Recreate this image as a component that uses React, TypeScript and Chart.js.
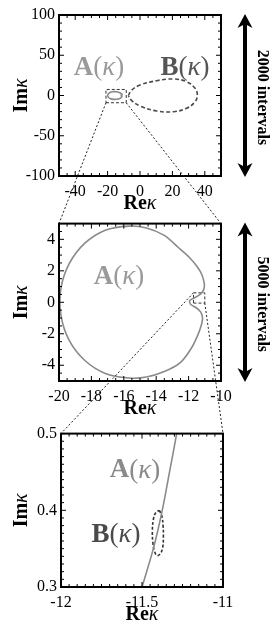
import React, { useEffect, useRef } from 'react';
import { Chart, registerables } from 'chart.js';
Chart.register(...registerables);

const SERIF = '"Liberation Serif", "DejaVu Serif", serif';

// ---------- Panel 1 (wide view) ----------
const p1XRange = [-50, 50];
const p1YRange = [-100, 100];
const p1XTicks = [-40, -20, 0, 20, 40];
const p1YTicks = [-100, -50, 0, 50, 100];
const p1MinorStep = [5, 10];
const p1Interval = '2000 intervals';

// ---------- Panel 2 (A(κ) view) ----------
const p2XRange = [-20, -10];
const p2YRange = [-5, 5];
const p2XTicks = [-20, -18, -16, -14, -12, -10];
const p2YTicks = [-4, -2, 0, 2, 4];
const p2MinorStep = [0.5, 0.5];
const p2Interval = '5000 intervals';

// ---------- Panel 3 (detail view) ----------
const p3XRange = [-12, -11];
const p3YRange = [0.3, 0.5];
const p3XTicks = [-12, -11.5, -11];
const p3YTicks = [0.3, 0.4, 0.5];
const p3MinorStep = [0.05, 0.01];

const aRe = [-11.96, -11.7, -11.35, -11.12, -11.03, -11.05, -11.2, -11.5, -11.95, -12.6, -13.5, -14.6, -15.68, -17.14, -18.42, -19.37, -19.88, -19.88, -19.37, -18.42, -17.14, -15.68, -14.6, -13.5, -12.53, -11.85, -11.42, -11.2, -11.14, -11.25, -11.55, -11.87, -11.96];
const aIm = [0.11, 0.25, 0.45, 0.7, 1.0, 1.3, 1.8, 2.3, 2.85, 3.45, 4.25, 4.72, 4.84, 4.58, 3.74, 2.45, 0.88, -0.81, -2.42, -3.68, -4.52, -4.81, -4.75, -4.4, -3.85, -2.95, -2.05, -1.4, -1.0, -0.62, -0.33, -0.14, 0.11];

// B(κ) contour in panel 1
const bRe = [-7.2, -5.3, 0, 10.3, 20.6, 28.8, 34, 35.4, 34, 28.8, 20.6, 10.3, 0, -5.1, -7.2];
const bIm = [-0.2, 6.5, 13, 18.4, 20.5, 17.1, 8.9, 0.6, -7.7, -15.9, -20.1, -19.3, -13, -6.4, -0.2];

// A(κ) detail (panel 3)
const aDetRe = [-11.53, -11.5, -11.43, -11.375, -11.33, -11.286, -11.27];
const aDetIm = [0.28, 0.3, 0.35, 0.4, 0.45, 0.5, 0.52];

// B(κ) detail (panel 3)
const bDetRe = [-11.393, -11.378, -11.37, -11.368, -11.372, -11.385, -11.405, -11.422, -11.433, -11.436, -11.43, -11.415, -11.393];
const bDetIm = [0.4, 0.393, 0.38, 0.365, 0.352, 0.344, 0.341, 0.346, 0.358, 0.373, 0.388, 0.397, 0.4];

// zoom windows drawn as dashed boxes
const box1Re = [-21, -8.5];
const box1Im = [-9, 7.5];
const box2Re = [-11.7, -11.0];
const box2Im = [-0.05, 0.6];

// label anchors [re, im]
const p1LabelA = [-25.3, 34];
const p1LabelB = [27.8, 34];
const p2LabelA = [-16.3, 1.6];
const p3LabelA = [-11.543, 0.452];
const p3LabelB = [-11.66, 0.368];

const CANVAS_TOPS = [0, 210, 420];
const CANVAS_HEIGHTS = [210, 210, 211];

const zip = (xs: number[], ys: number[]) => xs.map((x, i) => ({ x, y: ys[i] }));
const rect = (rx: number[], ry: number[]) => [
  { x: rx[0], y: ry[0] }, { x: rx[1], y: ry[0] }, { x: rx[1], y: ry[1] }, { x: rx[0], y: ry[1] }, { x: rx[0], y: ry[0] },
];

type Part = { t: string; f: string };
function drawMixed(ctx: CanvasRenderingContext2D, parts: Part[], x: number, y: number) {
  let total = 0;
  parts.forEach((p) => { ctx.font = p.f; total += ctx.measureText(p.t).width; });
  let cx = x - total / 2;
  ctx.textAlign = 'left';
  ctx.textBaseline = 'middle';
  parts.forEach((p) => { ctx.font = p.f; ctx.fillText(p.t, cx, y); cx += ctx.measureText(p.t).width; });
}

function curveLabel(name: string, size: number): Part[] {
  return [
    { t: name, f: `bold ${size}px ${SERIF}` },
    { t: '(', f: `${size}px ${SERIF}` },
    { t: 'κ', f: `italic ${size}px ${SERIF}` },
    { t: ')', f: `${size}px ${SERIF}` },
  ];
}

const framePlugin = {
  id: 'frameDeco',
  afterDatasetsDraw(chart: any) {
    const o = chart.options.plugins.frameDeco;
    const { ctx, chartArea: a, scales } = chart;
    const sx = scales.x, sy = scales.y;
    ctx.save();
    ctx.strokeStyle = '#000';
    ctx.lineWidth = 1;
    const isMajor = (v: number, arr: number[]) => arr.some((m) => Math.abs(m - v) < 1e-6);
    const [mx, my] = o.minor;
    const nx = Math.round((sx.max - sx.min) / mx);
    for (let i = 0; i <= nx; i++) {
      const v = sx.min + i * mx;
      const px = sx.getPixelForValue(v);
      const L = isMajor(v, o.xTicks) ? 5 : 3;
      ctx.beginPath();
      ctx.moveTo(px, a.bottom); ctx.lineTo(px, a.bottom - L);
      ctx.moveTo(px, a.top); ctx.lineTo(px, a.top + L);
      ctx.stroke();
    }
    const ny = Math.round((sy.max - sy.min) / my);
    for (let i = 0; i <= ny; i++) {
      const v = sy.min + i * my;
      const py = sy.getPixelForValue(v);
      const L = isMajor(v, o.yTicks) ? 5 : 3;
      ctx.beginPath();
      ctx.moveTo(a.left, py); ctx.lineTo(a.left + L, py);
      ctx.moveTo(a.right, py); ctx.lineTo(a.right - L, py);
      ctx.stroke();
    }
    ctx.lineWidth = 2;
    ctx.strokeRect(a.left, a.top, a.right - a.left, a.bottom - a.top);

    (o.labels || []).forEach((l: any) => {
      ctx.fillStyle = l.color;
      drawMixed(ctx, curveLabel(l.name, l.size), sx.getPixelForValue(l.at[0]), sy.getPixelForValue(l.at[1]));
    });

    ctx.fillStyle = '#000';
    const tparts = (a1: string): Part[] => [
      { t: a1, f: `bold 20px ${SERIF}` },
      { t: 'κ', f: `italic 20px ${SERIF}` },
    ];
    drawMixed(ctx, tparts('Re'), (a.left + a.right) / 2, a.bottom + 28);
    ctx.save();
    ctx.translate(22, (a.top + a.bottom) / 2);
    ctx.rotate(-Math.PI / 2);
    drawMixed(ctx, tparts('Im'), 0, 0);
    ctx.restore();

    if (o.interval) {
      const ax = a.right + 24;
      const top = a.top - 1, bot = a.bottom + 1;
      ctx.fillStyle = '#000';
      ctx.strokeStyle = '#000';
      ctx.lineWidth = 4;
      ctx.beginPath();
      ctx.moveTo(ax, top + 8); ctx.lineTo(ax, bot - 8);
      ctx.stroke();
      const head = (tipY: number, dir: number) => {
        ctx.beginPath();
        ctx.moveTo(ax, tipY);
        ctx.lineTo(ax + 7.5, tipY + dir * 14);
        ctx.lineTo(ax, tipY + dir * 10);
        ctx.lineTo(ax - 7.5, tipY + dir * 14);
        ctx.closePath();
        ctx.fill();
      };
      head(top, 1);
      head(bot, -1);
      ctx.save();
      ctx.translate(a.right + 41, (a.top + a.bottom) / 2 + 2);
      ctx.rotate(Math.PI / 2);
      drawMixed(ctx, [{ t: o.interval, f: `bold 16px ${SERIF}` }], 0, 0);
      ctx.restore();
    }
    ctx.restore();
  },
};

function makeConfig(opts: {
  xr: number[]; yr: number[]; xt: number[]; yt: number[]; minor: number[];
  datasets: any[]; labels: any[]; interval?: string; padTop: number; padRight: number;
  yWidth: number; xHeight: number;
}) {
  const fmt = (v: any) => String(Math.round(Number(v) * 1000) / 1000);
  return {
    type: 'scatter',
    data: { datasets: opts.datasets },
    plugins: [framePlugin],
    options: {
      animation: false,
      responsive: false,
      devicePixelRatio: 1,
      layout: { padding: { top: opts.padTop, right: opts.padRight, left: 0, bottom: 0 } },
      plugins: {
        legend: { display: false },
        tooltip: { enabled: false },
        frameDeco: { minor: opts.minor, xTicks: opts.xt, yTicks: opts.yt, labels: opts.labels, interval: opts.interval },
      },
      elements: { point: { radius: 0 } },
      scales: {
        x: {
          type: 'linear', position: 'bottom', min: opts.xr[0], max: opts.xr[1],
          grid: { display: false, drawTicks: false },
          border: { display: false },
          afterBuildTicks: (s: any) => { s.ticks = opts.xt.map((v) => ({ value: v })); },
          afterFit: (s: any) => { s.height = opts.xHeight; },
          ticks: { color: '#000', font: { family: SERIF, size: 16 }, padding: 6, maxRotation: 0, autoSkip: false, callback: fmt },
        },
        y: {
          type: 'linear', position: 'left', min: opts.yr[0], max: opts.yr[1],
          grid: { display: false, drawTicks: false },
          border: { display: false },
          afterBuildTicks: (s: any) => { s.ticks = opts.yt.map((v) => ({ value: v })); },
          afterFit: (s: any) => { s.width = opts.yWidth; },
          ticks: { color: '#000', font: { family: SERIF, size: 16 }, padding: 4, autoSkip: false, callback: fmt },
        },
      },
    },
  } as any;
}

const aStyle = { showLine: true, borderColor: '#8a8a8a', borderWidth: 1.6, pointRadius: 0, tension: 0.3, fill: false };
const bStyle = { showLine: true, borderColor: '#4a4a4a', borderWidth: 1.6, pointRadius: 0, tension: 0.4, fill: false, borderDash: [4, 2.5] };
const boxStyle = { showLine: true, borderColor: '#333', borderWidth: 1, pointRadius: 0, tension: 0, fill: false, borderDash: [3, 2] };

export default function App() {
  const r1 = useRef<HTMLCanvasElement>(null);
  const r2 = useRef<HTMLCanvasElement>(null);
  const r3 = useRef<HTMLCanvasElement>(null);
  const ro = useRef<HTMLCanvasElement>(null);

  useEffect(() => {
    const c1 = new Chart(r1.current as HTMLCanvasElement, makeConfig({
      xr: p1XRange, yr: p1YRange, xt: p1XTicks, yt: p1YTicks, minor: p1MinorStep,
      datasets: [
        { ...aStyle, label: 'A(κ)', data: zip(aRe, aIm) },
        { ...bStyle, label: 'B(κ)', data: zip(bRe, bIm) },
        { ...boxStyle, label: 'zoom', data: rect(box1Re, box1Im) },
      ],
      labels: [
        { name: 'A', at: p1LabelA, color: '#9a9a9a', size: 27 },
        { name: 'B', at: p1LabelB, color: '#555', size: 27 },
      ],
      interval: p1Interval, padTop: 15, padRight: 52, yWidth: 59, xHeight: 34,
    }));
    const c2 = new Chart(r2.current as HTMLCanvasElement, makeConfig({
      xr: p2XRange, yr: p2YRange, xt: p2XTicks, yt: p2YTicks, minor: p2MinorStep,
      datasets: [
        { ...aStyle, label: 'A(κ)', data: zip(aRe, aIm) },
        { ...boxStyle, label: 'zoom', data: rect(box2Re, box2Im) },
      ],
      labels: [{ name: 'A', at: p2LabelA, color: '#9a9a9a', size: 27 }],
      interval: p2Interval, padTop: 11, padRight: 52, yWidth: 59, xHeight: 39,
    }));
    const c3 = new Chart(r3.current as HTMLCanvasElement, makeConfig({
      xr: p3XRange, yr: p3YRange, xt: p3XTicks, yt: p3YTicks, minor: p3MinorStep,
      datasets: [
        { ...aStyle, label: 'A(κ)', data: zip(aDetRe, aDetIm) },
        { ...bStyle, borderColor: '#333', borderDash: [3, 2], label: 'B(κ)', data: zip(bDetRe, bDetIm) },
      ],
      labels: [
        { name: 'A', at: p3LabelA, color: '#8a8a8a', size: 27 },
        { name: 'B', at: p3LabelB, color: '#4a4a4a', size: 27 },
      ],
      padTop: 5, padRight: 50, yWidth: 61, xHeight: 44,
    }));

    const octx = (ro.current as HTMLCanvasElement).getContext('2d') as CanvasRenderingContext2D;
    octx.clearRect(0, 0, 273, 631);
    octx.save();
    octx.strokeStyle = '#222';
    octx.lineWidth = 1;
    octx.setLineDash([2, 2]);
    const line = (x1: number, y1: number, x2: number, y2: number) => {
      octx.beginPath(); octx.moveTo(x1, y1); octx.lineTo(x2, y2); octx.stroke();
    };
    const s1 = c1.scales as any, s2 = c2.scales as any;
    const a2 = c2.chartArea, a3 = c3.chartArea;
    line(s1.x.getPixelForValue(box1Re[0]), s1.y.getPixelForValue(box1Im[0]) + CANVAS_TOPS[0], a2.left, a2.top + CANVAS_TOPS[1]);
    line(s1.x.getPixelForValue(box1Re[1]), s1.y.getPixelForValue(box1Im[0]) + CANVAS_TOPS[0], a2.right, a2.top + CANVAS_TOPS[1]);
    line(s2.x.getPixelForValue(box2Re[0]), s2.y.getPixelForValue(box2Im[1]) + CANVAS_TOPS[1], a3.left, a3.top + CANVAS_TOPS[2]);
    line(s2.x.getPixelForValue(box2Re[1]), s2.y.getPixelForValue(box2Im[0]) + CANVAS_TOPS[1], a3.right, a3.top + CANVAS_TOPS[2]);
    octx.restore();

    return () => { c1.destroy(); c2.destroy(); c3.destroy(); };
  }, []);

  const cs = (i: number): React.CSSProperties => ({ position: 'absolute', left: 0, top: CANVAS_TOPS[i], width: 273, height: CANVAS_HEIGHTS[i] });
  return (
    <div style={{ position: 'absolute', left: 0, top: 0, width: 273, height: 631, background: '#fff' }}>
      <canvas ref={r1} width={273} height={CANVAS_HEIGHTS[0]} style={cs(0)} />
      <canvas ref={r2} width={273} height={CANVAS_HEIGHTS[1]} style={cs(1)} />
      <canvas ref={r3} width={273} height={CANVAS_HEIGHTS[2]} style={cs(2)} />
      <canvas ref={ro} width={273} height={631} style={{ position: 'absolute', left: 0, top: 0, pointerEvents: 'none' }} />
    </div>
  );
}
